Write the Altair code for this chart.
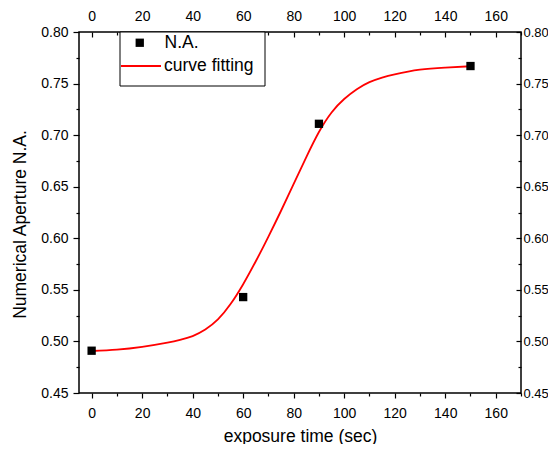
import altair as alt
import pandas as pd

# ---- data ----
time_points = [0, 60, 90, 150]
na_values = [0.491, 0.543, 0.711, 0.767]

fit_time = [0, 10, 20, 30, 35, 40, 45, 50, 55, 60, 65, 70, 75, 80, 85, 90, 95,
            100, 105, 110, 115, 120, 130, 140, 150]
fit_values = [0.4907, 0.4920, 0.4947, 0.4988, 0.5015, 0.5052, 0.5115, 0.5213,
              0.5362, 0.5555, 0.5777, 0.6017, 0.6267, 0.6527, 0.6787, 0.7030,
              0.7220, 0.7350, 0.7445, 0.7514, 0.7558, 0.7590, 0.7635, 0.7655,
              0.7668]

x_tick_values = list(range(0, 171, 10))
y_tick_values = [round(0.45 + 0.025 * i, 3) for i in range(15)]

series_points = "N.A."
series_fit = "curve fitting"
x_title = "exposure time (sec)"
y_title = "Numerical Aperture N.A."

FONT = "Liberation Sans"
W, H = 442, 361

df_pts = pd.DataFrame({"x": time_points, "y": na_values, "series": series_points})
df_fit = pd.DataFrame({"x": fit_time, "y": fit_values, "series": series_fit})

x_scale = alt.Scale(domain=[-5, 170], nice=False, zero=False)
y_scale = alt.Scale(domain=[0.45, 0.80], nice=False, zero=False)

x_major = "datum.value % 20 === 0"
y_major = "round(datum.value * 1000) % 50 === 0"

common = dict(domain=False, grid=False, tickColor="black", tickWidth=1.2,
              labelFont=FONT, labelColor="black",
              labelOverlap=False, labelFlush=False)

bottom_axis = alt.Axis(orient="bottom", values=x_tick_values,
                       labelExpr=f"{x_major} ? datum.label : ''",
                       tickSize={"expr": f"{x_major} ? 5 : 3"},
                       labelPadding=19, labelBaseline="alphabetic",
                       labelFontSize=14,
                       title=x_title, titleFont=FONT, titleFontSize=17.5,
                       titleFontWeight="normal", titleColor="black",
                       titleX=W / 2, titleY=48, titleBaseline="alphabetic",
                       titleAlign="center", **common)
top_axis = alt.Axis(orient="top", values=x_tick_values,
                    labelExpr=f"{x_major} ? datum.label : ''",
                    tickSize={"expr": f"{x_major} ? -5 : -3"},
                    labelPadding=17, labelBaseline="alphabetic",
                    labelFontSize=14, title=None, **common)
left_axis = alt.Axis(orient="left", values=y_tick_values,
                     labelExpr=f"{y_major} ? format(datum.value, '.2f') : ''",
                     tickSize={"expr": f"{y_major} ? 6 : 3"},
                     labelPadding=5, labelBaseline="middle",
                     labelFontSize=14,
                     title=y_title, titleFont=FONT, titleFontSize=17.5,
                     titleFontWeight="normal", titleColor="black",
                     titleX=-59, titleY=192, titleAngle=270,
                     titleBaseline="middle", titleAlign="center", **common)
right_axis = alt.Axis(orient="right", values=y_tick_values,
                      labelExpr=f"{y_major} ? format(datum.value, '.2f') : ''",
                      tickSize={"expr": f"{y_major} ? -5 : -3"},
                      labelPadding=7, labelBaseline="middle",
                      labelFontSize=13, title=None, **common)

line_legend = alt.Legend(title=None, orient="none", legendX=41, legendY=13,
                         padding=0, symbolType="stroke", symbolSize=1600,
                         symbolStrokeWidth=1.8, symbolStrokeColor="#ff0000",
                         labelFont=FONT, labelFontSize=17.5, labelColor="black",
                         labelOffset=2)
point_legend = alt.Legend(title=None, orient="none", legendX=52, legendY=2,
                          padding=0, symbolType="square", symbolSize=69,
                          symbolFillColor="black", symbolStrokeWidth=0,
                          labelFont=FONT, labelFontSize=17.5, labelColor="black",
                          labelOffset=16)

line = alt.Chart(df_fit).mark_line(strokeWidth=1.8, interpolate="natural").encode(
    x=alt.X("x:Q", scale=x_scale, axis=top_axis),
    y=alt.Y("y:Q", scale=y_scale, axis=right_axis),
    stroke=alt.Stroke("series:N",
                      scale=alt.Scale(domain=[series_fit], range=["#ff0000"]),
                      legend=line_legend),
)

points = alt.Chart(df_pts).mark_point(shape="square", filled=True, size=69,
                                      opacity=1).encode(
    x=alt.X("x:Q", scale=x_scale, axis=bottom_axis),
    y=alt.Y("y:Q", scale=y_scale, axis=left_axis),
    fill=alt.Fill("series:N",
                  scale=alt.Scale(domain=[series_points], range=["black"]),
                  legend=point_legend),
)

box = alt.Chart(pd.DataFrame({"k": [0]})).mark_rect(
    fill="white", stroke="black", strokeWidth=1).encode(
    x=alt.value(41), x2=alt.value(186), y=alt.value(0), y2=alt.value(54))

chart = alt.layer(line, points, box).resolve_axis(
    x="independent", y="independent"
).properties(
    width=W, height=H,
    autosize=alt.AutoSizeParams(type="none"),
    padding={"left": 71, "top": 24, "right": 27, "bottom": 51},
).configure_view(stroke="black", strokeWidth=1.5)

chart.save("out.html", embed_options={"renderer": "svg", "actions": False})
